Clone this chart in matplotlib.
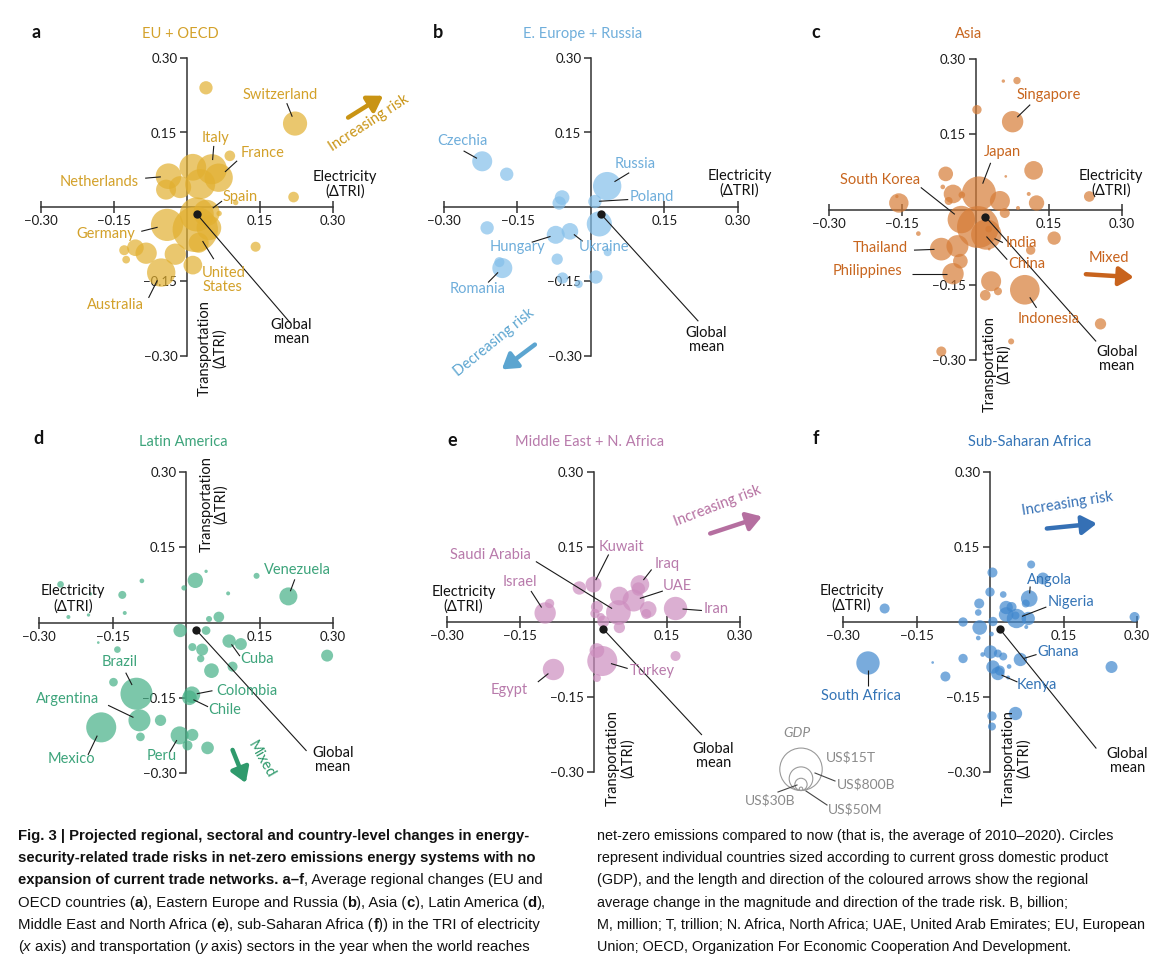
import matplotlib
matplotlib.use("Agg")
import matplotlib.pyplot as plt
from matplotlib.patches import Circle
import numpy as np

plt.rcParams["font.family"] = ["Lato", "DejaVu Sans"]

W, H, DPI = 1172, 963, 100
TICKS = [-0.30, -0.15, 0.15, 0.30]
TICK_LABELS = ["\u22120.30", "\u22120.15", "0.15", "0.30"]

# global mean (electricity, transportation)
GLOBAL_X, GLOBAL_Y = 0.020, -0.014

# ---- a: EU + OECD  (x = electricity dTRI, y = transportation dTRI, GDP in US$ billion)
a_x = [0.039, 0.222, 0.088, 0.219, 0.100, -0.038, -0.043, -0.014, 0.012, 0.051, 0.065, 0.027, 0.020, 0.040,
       0.017, -0.041, 0.045, 0.024, -0.024, -0.084, -0.106, -0.129, -0.125, -0.053, 0.012, 0.141, 0.066]
a_y = [0.240, 0.168, 0.103, 0.020, 0.009, 0.062, 0.035, 0.040, 0.080, 0.076, 0.059, 0.046, -0.015, -0.012,
       -0.045, -0.036, -0.042, -0.072, -0.095, -0.093, -0.082, -0.087, -0.106, -0.132, -0.117, -0.080, -0.013]
a_gdp = [45, 900, 15, 15, 0.5, 1200, 350, 560, 1500, 2700, 2000, 2700, 5000, 1400,
         21000, 3800, 1000, 350, 480, 480, 140, 11, 3, 2000, 250, 11, 0.5]
a_names = ["", "Switzerland", "", "", "", "Netherlands", "", "", "", "Italy", "France", "", "", "Spain",
           "United States", "Germany", "", "", "", "", "", "", "", "Australia", "", "", ""]

# ---- b: E. Europe + Russia
b_x = [-0.222, -0.172, -0.059, -0.065, 0.008, 0.033, 0.017, -0.212, -0.072, -0.043, 0.034, -0.069, -0.187,
       -0.181, -0.058, -0.025, 0.010]
b_y = [0.092, 0.066, 0.019, 0.008, 0.011, 0.042, -0.034, -0.042, -0.056, -0.049, -0.091, -0.105, -0.111,
       -0.123, -0.143, -0.155, -0.141]
b_gdp = [350, 46, 74, 46, 46, 2000, 1100, 46, 206, 139, 3.6, 20, 11, 350, 20, 3.6, 46]
b_names = ["Czechia", "", "", "", "Poland", "Russia", "", "", "Hungary", "Ukraine", "", "", "",
           "Romania", "", "", ""]

# ---- c: Asia
c_x = [0.057, 0.085, 0.003, 0.076, 0.119, 0.062, -0.061, -0.067, -0.046, -0.028, 0.007, 0.050, -0.055,
       0.109, 0.125, 0.087, 0.233, -0.157, -0.161, 0.060, -0.029, 0.005, 0.022, 0.027, -0.117, -0.070,
       -0.037, -0.031, -0.046, 0.028, 0.113, 0.161, 0.032, 0.046, 0.020, 0.101, 0.256, 0.073, -0.070]
c_y = [0.256, 0.257, 0.199, 0.175, 0.078, 0.066, 0.071, 0.045, 0.031, 0.029, 0.032, 0.017, 0.017, 0.031,
       0.013, 0.003, 0.026, 0.013, 0.026, -0.007, -0.020, -0.035, -0.050, -0.039, -0.048, -0.079, -0.073,
       -0.103, -0.128, -0.079, -0.081, -0.057, -0.143, -0.163, -0.171, -0.160, -0.228, -0.263, -0.283]
c_gdp = [0.05, 2.3, 7.7, 485, 247, 0.015, 74, 0.24, 247, 1.4, 5000, 350, 3.6, 0.11, 93, 0.11, 15, 300,
         0.045, 11, 1700, 14000, 2800, 1.4, 0.24, 660, 565, 74, 485, 0.015, 7.7, 46, 350, 3.6, 15, 2500,
         20, 0.85, 11]
c_names = ["", "", "", "Singapore", "", "", "", "", "", "", "Japan", "", "", "", "", "", "", "", "", "",
           "South Korea", "China", "India", "", "", "Thailand", "", "", "Philippines", "", "", "", "", "",
           "", "Indonesia", "", "", ""]

# ---- d: Latin America
d_x = [-0.256, -0.240, -0.199, -0.195, -0.130, -0.125, -0.090, 0.019, 0.041, -0.004, 0.086, 0.144, 0.209,
       0.047, 0.067, -0.012, 0.041, 0.088, 0.112, 0.288, 0.013, 0.033, 0.030, 0.095, 0.052, -0.140, -0.148,
       -0.101, 0.012, 0.007, -0.095, -0.173, -0.052, -0.093, -0.013, 0.013, 0.003, 0.044, -0.179]
d_y = [0.076, 0.011, 0.015, 0.057, 0.055, 0.019, 0.083, 0.084, 0.102, 0.069, 0.058, 0.093, 0.052, 0.007,
       0.011, -0.016, -0.016, -0.037, -0.043, -0.066, -0.049, -0.054, -0.072, -0.088, -0.096, -0.054,
       -0.119, -0.142, -0.144, -0.150, -0.195, -0.209, -0.195, -0.228, -0.225, -0.224, -0.245, -0.250, -0.040]
d_gdp = [1.4, 0.11, 0.045, 0.045, 3.6, 0.11, 0.24, 93, 0.045, 0.47, 0.11, 0.85, 206, 0.85, 15, 46, 5.3,
         46, 27, 27, 3.6, 27, 2.3, 11, 74, 1.4, 5.3, 3700, 139, 74, 565, 2670, 20, 5.3, 206, 27, 11, 35, 0.015]
d_names = ["", "", "", "", "", "", "", "", "", "", "", "", "Venezuela", "", "", "", "", "Cuba", "", "", "",
           "", "", "", "", "", "", "Brazil", "Colombia", "Chile", "Argentina", "Mexico", "", "", "Peru", "",
           "", "", ""]

# ---- e: Middle East + N. Africa
e_x = [-0.029, 0.000, 0.007, 0.003, 0.015, 0.053, 0.051, 0.082, 0.095, 0.092, 0.112, 0.108, 0.168, -0.099,
       -0.090, 0.020, 0.053, 0.007, 0.018, 0.007, 0.168, -0.082]
e_y = [0.068, 0.075, 0.030, 0.017, 0.010, 0.052, 0.019, 0.043, 0.075, 0.066, 0.025, 0.016, 0.027, 0.018,
       0.037, 0.001, -0.011, -0.057, -0.078, -0.112, -0.068, -0.095]
e_gdp = [46, 114, 27, 7.7, 3.6, 247, 1000, 565, 247, 46, 139, 11, 760, 485, 7.7, 27, 20, 74, 2670, 3.6,
         11, 485]
e_names = ["", "Kuwait", "", "", "", "", "Saudi Arabia", "UAE", "Iraq", "", "", "", "Iran", "Israel", "",
           "", "", "", "Turkey", "", "", "Egypt"]

# ---- f: Sub-Saharan Africa
f_x = [0.084, 0.005, 0.108, 0.000, 0.027, 0.080, 0.073, -0.022, -0.024, 0.033, 0.044, 0.054, 0.033, 0.078,
       0.052, -0.055, -0.021, 0.006, 0.003, -0.024, -0.215, 0.295, 0.074, 0.001, 0.016, 0.027, -0.015,
       0.062, -0.055, 0.039, 0.006, 0.020, 0.016, -0.091, -0.117, -0.249, 0.248, 0.052, 0.004, 0.004, 0.037]
f_y = [0.115, 0.099, 0.087, 0.060, 0.055, 0.047, 0.037, 0.037, 0.019, 0.029, 0.030, 0.007, 0.015, 0.007,
       0.013, 0.000, -0.011, 0.001, -0.024, -0.032, 0.027, 0.010, -0.010, -0.060, -0.063, -0.069, -0.065,
       -0.075, -0.073, -0.089, -0.090, -0.097, -0.103, -0.109, -0.081, -0.082, -0.090, -0.183, -0.188,
       -0.209, -0.111]
f_gdp = [3.6, 11, 27, 7.7, 1.4, 139, 3.6, 11, 1.4, 46, 11, 300, 74, 46, 3.6, 7.7, 74, 7.7, 0.24, 0.24, 11,
         11, 0.11, 46, 3.6, 3.6, 0.24, 46, 7.7, 0.24, 46, 11, 46, 11, 0.015, 760, 27, 46, 7.7, 3.6, 0.11]
f_names = ["", "", "", "", "", "Angola", "", "", "", "", "", "Nigeria", "", "", "", "", "", "", "", "", "",
           "", "", "", "", "", "", "Ghana", "", "", "", "", "Kenya", "", "", "South Africa", "", "", "", "",
           ""]

# GDP key (US$ billion)
key_gdp = [15000, 800, 30, 0.05]
key_labels = ["US$15T", "US$800B", "US$30B", "US$50M"]

DISPLAY = {"United States": "United\nStates"}


def bubble_px(gdp):
    # radius in pixels, fitted on the GDP key
    return 3.1 * np.power(np.asarray(gdp, dtype=float), 0.2)


def bubble_s(gdp):
    return (2 * bubble_px(gdp) * 72 / DPI) ** 2


fig = plt.figure(figsize=(W / DPI, H / DPI), dpi=DPI)


def add_panel(l, t, r, b):
    # l, t, r, b: pixel extent of the -0.30..0.30 range
    ax = fig.add_axes([l / W, 1 - b / H, (r - l) / W, (b - t) / H])
    ax.set_xlim(-0.3, 0.3)
    ax.set_ylim(-0.3, 0.3)
    ax.patch.set_visible(False)
    ax.spines["top"].set_visible(False)
    ax.spines["right"].set_visible(False)
    ax.spines["left"].set_position("zero")
    ax.spines["bottom"].set_position("zero")
    for s in ["left", "bottom"]:
        ax.spines[s].set_linewidth(1.1)
        ax.spines[s].set_color("#333333")
    ax.set_xticks(TICKS)
    ax.set_xticklabels(TICK_LABELS)
    ax.set_yticks(TICKS)
    ax.set_yticklabels(TICK_LABELS)
    ax.tick_params(axis="x", direction="inout", length=8, width=1.1, pad=2, labelsize=9.5,
                   color="#333333", labelcolor="#1a1a1a")
    ax.tick_params(axis="y", direction="out", length=5, width=1.1, pad=2, labelsize=9.5,
                   color="#333333", labelcolor="#1a1a1a")
    return ax


def leader(ax, x0, y0, x1, y1):
    ax.plot([x0, x1], [y0, y1], color="#1a1a1a", lw=0.8, zorder=5, clip_on=False, solid_capstyle="butt")


def draw_panel(ax, xs, ys, gdp, names, fill, tcol, layout, glob, elec, trans, arrow):
    ax.scatter(xs, ys, s=bubble_s(gdp), color=fill, alpha=0.7, linewidths=0, zorder=3, clip_on=False)
    ppu = ax.bbox.width / 0.6
    for name, (tx, ty, ha, lx, ly) in layout.items():
        i = names.index(name)
        cx, cy = xs[i], ys[i]
        r = bubble_px(gdp[i]) / ppu * 0.6
        dx, dy = lx - cx, ly - cy
        d = np.hypot(dx, dy)
        leader(ax, lx, ly, cx + dx / d * r, cy + dy / d * r)
        ax.text(tx, ty, DISPLAY.get(name, name), ha=ha, va="center", color=tcol, fontsize=10.5,
                linespacing=1.0, zorder=7, clip_on=False)

    # global mean
    ax.scatter([GLOBAL_X], [GLOBAL_Y], s=36, color="#1a1a1a", linewidths=0, zorder=6, clip_on=False)
    gx, gy, glx, gly = glob
    leader(ax, glx, gly, GLOBAL_X, GLOBAL_Y)
    ax.text(gx, gy, "Global\nmean", ha="center", va="center", fontsize=10.5, color="#111111",
            linespacing=1.0, zorder=7, clip_on=False)

    ax.text(elec[0], elec[1], "Electricity\n(\u0394TRI)", ha="center", va="center", fontsize=10.5,
            color="#111111", linespacing=1.05, zorder=7, clip_on=False)
    if trans is not None:
        ax.text(trans[0], trans[1], "Transportation\n(\u0394TRI)", rotation=90, ha="center", va="center",
                multialignment="center", fontsize=10.5, color="#111111", linespacing=1.05, zorder=7,
                clip_on=False)

    # regional arrow
    label, tx, ty, rot, x0, y0, x1, y1, acol = arrow
    ax.annotate("", xy=(x1, y1), xytext=(x0, y0), annotation_clip=False,
                arrowprops=dict(arrowstyle="-|>,head_length=0.55,head_width=0.35", color=acol, lw=3.2,
                                mutation_scale=16, shrinkA=0, shrinkB=0))
    ax.text(tx, ty, label, rotation=rot, rotation_mode="anchor", ha="center", va="center", color=acol,
            fontsize=10.5, zorder=7, clip_on=False)


# panel a
ax = add_panel(41, 58, 333, 356)
draw_panel(ax, a_x, a_y, a_gdp, a_names, "#E2B030", "#D3A12A",
           {"Switzerland": (0.192, 0.225, "center", 0.205, 0.209),
            "Italy": (0.058, 0.138, "center", 0.055, 0.123),
            "France": (0.155, 0.108, "center", 0.103, 0.093),
            "Netherlands": (-0.099, 0.050, "right", -0.086, 0.058),
            "Spain": (0.073, 0.020, "left", 0.072, 0.012),
            "Germany": (-0.106, -0.054, "right", -0.094, -0.049),
            "United States": (0.031, -0.146, "left", 0.055, -0.105),
            "Australia": (-0.088, -0.197, "right", -0.079, -0.183)},
           (0.214, -0.252, 0.212, -0.233), (0.325, 0.046), (0.052, -0.284),
           ("Increasing risk", 0.374, 0.169, 33, 0.331, 0.180, 0.403, 0.224, "#C99414"))

# panel b
ax = add_panel(444, 58, 738, 356)
draw_panel(ax, b_x, b_y, b_gdp, b_names, "#83BFEA", "#6FAEDB",
           {"Czechia": (-0.263, 0.132, "center", -0.260, 0.113),
            "Russia": (0.091, 0.087, "center", 0.078, 0.069),
            "Poland": (0.078, 0.021, "left", 0.076, 0.015),
            "Hungary": (-0.094, -0.081, "right", -0.121, -0.071),
            "Ukraine": (-0.025, -0.081, "left", -0.017, -0.069),
            "Romania": (-0.232, -0.166, "center", -0.210, -0.152)},
           (0.235, -0.268, 0.219, -0.230), (0.303, 0.047), None,
           ("Decreasing risk", -0.198, -0.273, 39, -0.1145, -0.277, -0.182, -0.327, "#5CA5D0"))

# panel c
ax = add_panel(829, 59, 1122, 360)
draw_panel(ax, c_x, c_y, c_gdp, c_names, "#D67C37", "#C8661F",
           {"Singapore": (0.151, 0.228, "center", 0.112, 0.209),
            "Japan": (0.055, 0.114, "center", 0.031, 0.093),
            "South Korea": (-0.196, 0.058, "center", -0.112, 0.044),
            "India": (0.061, -0.067, "left", 0.056, -0.066),
            "China": (0.067, -0.109, "left", 0.065, -0.100),
            "Thailand": (-0.138, -0.077, "right", -0.126, -0.081),
            "Philippines": (-0.149, -0.123, "right", -0.131, -0.128),
            "Indonesia": (0.149, -0.219, "center", 0.125, -0.196)},
           (0.289, -0.298, 0.247, -0.263), (0.277, 0.052), (0.044, -0.309),
           ("Mixed", 0.273, -0.097, 0, 0.226, -0.129, 0.324, -0.135, "#C8631D"))

# panel d
ax = add_panel(39, 472, 333, 773)
draw_panel(ax, d_x, d_y, d_gdp, d_names, "#45B086", "#3DA47B",
           {"Venezuela": (0.227, 0.104, "center", 0.222, 0.086),
            "Cuba": (0.111, -0.073, "left", 0.110, -0.067),
            "Brazil": (-0.135, -0.079, "center", -0.123, -0.100),
            "Argentina": (-0.241, -0.153, "center", -0.159, -0.165),
            "Colombia": (0.061, -0.136, "left", 0.054, -0.136),
            "Chile": (0.046, -0.175, "left", 0.045, -0.168),
            "Mexico": (-0.233, -0.272, "center", -0.200, -0.264),
            "Peru": (-0.050, -0.266, "center", -0.033, -0.258)},
           (0.300, -0.275, 0.246, -0.256), (-0.231, 0.047), (0.057, 0.236),
           ("Mixed", 0.153, -0.274, -60, 0.095, -0.254, 0.122, -0.320, "#2F9A6C"))

# panel e
ax = add_panel(447, 472, 740, 772)
draw_panel(ax, e_x, e_y, e_gdp, e_names, "#CD8DBF", "#B87AAB",
           {"Kuwait": (0.058, 0.151, "center", 0.031, 0.135),
            "Saudi Arabia": (-0.211, 0.135, "center", -0.118, 0.121),
            "Iraq": (0.151, 0.116, "center", 0.119, 0.105),
            "UAE": (0.172, 0.073, "center", 0.142, 0.062),
            "Israel": (-0.151, 0.081, "center", -0.128, 0.062),
            "Iran": (0.225, 0.027, "left", 0.222, 0.023),
            "Turkey": (0.074, -0.098, "left", 0.070, -0.093),
            "Egypt": (-0.172, -0.136, "center", -0.114, -0.120)},
           (0.245, -0.267, 0.222, -0.226), (-0.266, 0.045), (0.055, -0.272),
           ("Increasing risk", 0.253, 0.233, 21, 0.239, 0.177, 0.345, 0.211, "#B56FA0"))

# panel f
ax = add_panel(843, 472, 1137, 772)
draw_panel(ax, f_x, f_y, f_gdp, f_names, "#4188CE", "#3474B6",
           {"Angola": (0.122, 0.085, "center", 0.082, 0.071),
            "Nigeria": (0.166, 0.041, "center", 0.115, 0.030),
            "Ghana": (0.139, -0.059, "center", 0.095, -0.065),
            "Kenya": (0.096, -0.125, "center", 0.056, -0.120),
            "South Africa": (-0.264, -0.147, "center", -0.249, -0.127)},
           (0.280, -0.277, 0.217, -0.253), (-0.283, 0.048), (0.054, -0.273),
           ("Increasing risk", 0.157, 0.237, 9, 0.116, 0.187, 0.218, 0.197, "#3570B5"))

# ---- overlay in pixel coordinates: letters, titles, GDP key, caption
ov = fig.add_axes([0, 0, 1, 1])
ov.set_xlim(0, W)
ov.set_ylim(H, 0)
ov.axis("off")

panel_heads = [("a", 36, 32, "EU + OECD", 180, 34, "#D3A12A"),
               ("b", 438, 32, "E. Europe + Russia", 583, 34, "#6FAEDB"),
               ("c", 816, 32, "Asia", 969, 34, "#C8661F"),
               ("d", 38, 438, "Latin America", 183, 442, "#3DA47B"),
               ("e", 452, 440, "Middle East + N. Africa", 590, 442, "#B87AAB"),
               ("f", 816, 438, "Sub-Saharan Africa", 1030, 442, "#3474B6")]
for let, lx, ly, title, tx, ty, col in panel_heads:
    ov.text(lx, ly, let, ha="center", va="center", fontsize=13, fontweight="bold", color="#111111")
    ov.text(tx, ty, title, ha="center", va="center", fontsize=10.5, color=col)

# GDP key
ov.text(797, 733, "GDP", ha="center", va="center", fontsize=10, fontstyle="italic", color="#8a8a8a")
key_r = bubble_px(key_gdp)
for r in key_r:
    ov.add_patch(Circle((801, 790.5 - r), r, fill=False, ec="#9a9a9a", lw=0.8))
ov.text(826, 757, key_labels[0], ha="left", va="center", fontsize=10, color="#8a8a8a")
ov.text(837, 784, key_labels[1], ha="left", va="center", fontsize=10, color="#8a8a8a")
ov.text(795, 800, key_labels[2], ha="right", va="center", fontsize=10, color="#8a8a8a")
ov.text(828, 809, key_labels[3], ha="left", va="center", fontsize=10, color="#8a8a8a")
for x0, y0, x1, y1 in [(835, 781, 815, 773), (778, 792, 797, 785), (827, 805, 806, 791)]:
    ov.plot([x0, x1], [y0, y1], color="#444444", lw=0.8)

# caption
CAP_FONT = ["Liberation Sans", "DejaVu Sans"]
N, B, I = "normal", "bold", "italic"
left_lines = [
    [("Fig. 3 | Projected regional, sectoral and country-level changes in energy-", B)],
    [("security-related trade risks in net-zero emissions energy systems with no", B)],
    [("expansion of current trade networks. a\u2013f", B), (", Average regional changes (EU and", N)],
    [("OECD countries (", N), ("a", B), ("), Eastern Europe and Russia (", N), ("b", B), ("), Asia (", N),
     ("c", B), ("), Latin America (", N), ("d", B), ("),", N)],
    [("Middle East and North Africa (", N), ("e", B), ("), sub-Saharan Africa (", N), ("f", B),
     (")) in the TRI of electricity", N)],
    [("(", N), ("x", I), (" axis) and transportation (", N), ("y", I),
     (" axis) sectors in the year when the world reaches", N)],
]
right_lines = [
    [("net-zero emissions compared to now (that is, the average of 2010\u20132020). Circles", N)],
    [("represent individual countries sized according to current gross domestic product", N)],
    [("(GDP), and the length and direction of the coloured arrows show the regional", N)],
    [("average change in the magnitude and direction of the trade risk. B, billion;", N)],
    [("M, million; T, trillion; N. Africa, North Africa; UAE, United Arab Emirates; EU, European", N)],
    [("Union; OECD, Organization For Economic Cooperation And Development.", N)],
]
renderer = fig.canvas.get_renderer()


def text_width(s, size, style):
    t = ov.text(0, 0, s, fontsize=size, family=CAP_FONT,
                fontweight="bold" if style == B else "normal",
                fontstyle="italic" if style == I else "normal")
    w = t.get_window_extent(renderer).width
    t.remove()
    return w


def draw_runs(x, y, runs, size, space_w):
    for txt, style in runs:
        core = txt.strip(" ")
        x += (len(txt) - len(txt.lstrip(" "))) * space_w
        t = ov.text(x, y, core, ha="left", va="baseline", fontsize=size, family=CAP_FONT,
                    color="#111111", fontweight="bold" if style == B else "normal",
                    fontstyle="italic" if style == I else "normal")
        x += t.get_window_extent(renderer).width
        x += (len(txt) - len(txt.rstrip(" "))) * space_w


line_y = [840, 862, 884, 907, 929, 951]
# font size of each column fitted on its widest plain line
size_l = 10 * 524 / text_width(
    "Middle East and North Africa (e), sub-Saharan Africa (f)) in the TRI of electricity", 10, N)
size_r = 10 * 548 / text_width(right_lines[4][0][0], 10, N)
for runs, y in zip(left_lines, line_y):
    sw = text_width("a a", size_l, N) - text_width("aa", size_l, N)
    draw_runs(18, y, runs, size_l, sw)
for runs, y in zip(right_lines, line_y):
    sw = text_width("a a", size_r, N) - text_width("aa", size_r, N)
    draw_runs(597, y, runs, size_r, sw)

fig.savefig("out.png", dpi=DPI)
plt.close(fig)
